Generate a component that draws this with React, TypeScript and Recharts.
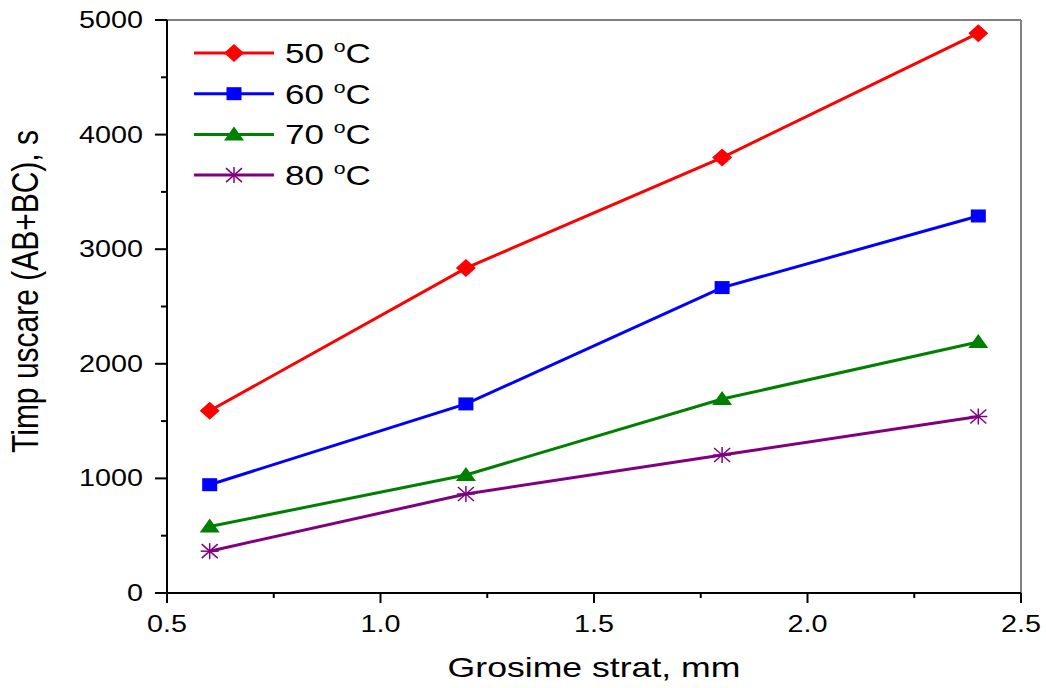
import React from "react"
import { LineChart, Line, XAxis, YAxis, ReferenceLine } from "recharts"

// thickness values
const THICKNESS = [0.6, 1.2, 1.8, 2.4]
const T50 = [1590, 2835, 3800, 4885]
const T60 = [945, 1650, 2665, 3290]
const T70 = [580, 1030, 1693, 2190]
const T80 = [365, 864, 1204, 1540]

const X_TICKS = [0.5, 0.75, 1.0, 1.25, 1.5, 1.75, 2.0, 2.25, 2.5]
const X_MAJOR = [0.5, 1.0, 1.5, 2.0, 2.5]
const Y_TICKS = [0, 500, 1000, 1500, 2000, 2500, 3000, 3500, 4000, 4500, 5000]
const Y_MAJOR = [0, 1000, 2000, 3000, 4000, 5000]

const SERIES = [
  { key: "t50", label: "50", color: "#ff0000", shape: "diamond", values: T50 },
  { key: "t60", label: "60", color: "#0000ff", shape: "square", values: T60 },
  { key: "t70", label: "70", color: "#008000", shape: "triangle", values: T70 },
  { key: "t80", label: "80", color: "#800080", shape: "star", values: T80 },
]

const data = THICKNESS.map((x, i) => {
  const row: Record<string, number> = { x }
  SERIES.forEach((s) => (row[s.key] = s.values[i]))
  return row
})

const FONT = "'Liberation Sans', Arial, sans-serif"
const SX = 1.25 // the original figure is stretched horizontally

function Marker({ cx, cy, shape, color }: { cx: number; cy: number; shape: string; color: string }) {
  if (shape === "diamond") {
    return <polygon points={`${cx},${cy - 9} ${cx + 10},${cy} ${cx},${cy + 9} ${cx - 10},${cy}`} fill={color} />
  }
  if (shape === "square") {
    return <rect x={cx - 7.5} y={cy - 6.5} width={15} height={13} fill={color} />
  }
  if (shape === "triangle") {
    return <polygon points={`${cx},${cy - 8} ${cx + 10},${cy + 6} ${cx - 10},${cy + 6}`} fill={color} />
  }
  return (
    <g stroke={color} strokeWidth={1.5}>
      <line x1={cx} y1={cy - 8} x2={cx} y2={cy + 8} />
      <line x1={cx - 9} y1={cy} x2={cx + 9} y2={cy} />
      <line x1={cx - 8} y1={cy - 7} x2={cx + 8} y2={cy + 7} />
      <line x1={cx - 8} y1={cy + 7} x2={cx + 8} y2={cy - 7} />
    </g>
  )
}

function XTick(props: any) {
  const { x, y, payload } = props
  const major = X_MAJOR.includes(payload.value)
  return (
    <g>
      <line x1={x} x2={x} y1={y} y2={y + (major ? 10 : 5)} stroke="#000" strokeWidth={2} />
      {major && (
        <text
          transform={`translate(${x},${y + 39}) scale(${SX},1)`}
          textAnchor="middle"
          fontSize={23}
          fontFamily={FONT}
          fill="#000"
        >
          {payload.value.toFixed(1)}
        </text>
      )}
    </g>
  )
}

function YTick(props: any) {
  const { x, y, payload } = props
  const major = Y_MAJOR.includes(payload.value)
  return (
    <g>
      <line x1={x} x2={x - (major ? 12 : 6)} y1={y} y2={y} stroke="#000" strokeWidth={2} />
      {major && (
        <text
          transform={`translate(${x - 24},${y + 8}) scale(${SX},1)`}
          textAnchor="end"
          fontSize={23}
          fontFamily={FONT}
          fill="#000"
        >
          {payload.value}
        </text>
      )}
    </g>
  )
}

function LegendBox() {
  return (
    <svg width={230} height={180} style={{ display: "block" }}>
      {SERIES.map((s, i) => {
        const cy = 18 + i * 40.7
        return (
          <g key={s.key}>
            <line x1={4} x2={84} y1={cy} y2={cy} stroke={s.color} strokeWidth={3} />
            <Marker cx={44} cy={cy} shape={s.shape} color={s.color} />
            <text transform={`translate(95,${cy + 10}) scale(${SX},1)`} fontSize={28} fontFamily={FONT} fill="#000">
              {s.label}{" "}
              <tspan fontSize={17} dy={-11}>o</tspan>
              <tspan dy={11}>C</tspan>
            </text>
          </g>
        )
      })}
    </svg>
  )
}

export default function App() {
  return (
    <div style={{ position: "absolute", left: 0, top: 0, width: 1046, height: 688, background: "#fff" }}>
      <LineChart width={1046} height={688} data={data} margin={{ top: 20, right: 25, left: 0, bottom: 0 }}>
        <XAxis
          dataKey="x"
          type="number"
          domain={[0.5, 2.5]}
          ticks={X_TICKS}
          interval={0}
          height={95}
          tickSize={0}
          tickMargin={0}
          tickLine={false}
          tick={<XTick />}
          axisLine={{ stroke: "#000", strokeWidth: 2 }}
          label={{
            content: (p: any) => {
              const vb = p.viewBox
              return (
                <text
                  transform={`translate(${vb.x + vb.width / 2},${vb.y + 84}) scale(${SX},1)`}
                  textAnchor="middle"
                  fontSize={28.5}
                  fontFamily={FONT}
                  fill="#000"
                >
                  Grosime strat, mm
                </text>
              )
            },
          }}
        />
        <YAxis
          type="number"
          domain={[0, 5000]}
          ticks={Y_TICKS}
          interval={0}
          width={167}
          tickSize={0}
          tickMargin={0}
          tickLine={false}
          tick={<YTick />}
          axisLine={{ stroke: "#000", strokeWidth: 2 }}
          label={{
            content: (p: any) => {
              const vb = p.viewBox
              return (
                <text
                  transform={`translate(${vb.x + 38},${vb.y + vb.height / 2 - 15}) scale(${SX},1) rotate(-90)`}
                  textAnchor="middle"
                  fontSize={30}
                  fontFamily={FONT}
                  fill="#000"
                >
                  Timp uscare (AB+BC), s
                </text>
              )
            },
          }}
        />
        <ReferenceLine y={5000} stroke="#808080" strokeWidth={2} />
        <ReferenceLine x={2.5} stroke="#808080" strokeWidth={2} />
        {SERIES.map((s) => (
          <Line
            key={s.key}
            dataKey={s.key}
            stroke={s.color}
            strokeWidth={3}
            isAnimationActive={false}
            dot={(p: any) => <Marker key={`${s.key}-${p.index}`} cx={p.cx} cy={p.cy} shape={s.shape} color={s.color} />}
            activeDot={false}
          />
        ))}
      </LineChart>
      <div style={{ position: "absolute", left: 190, top: 35 }}>
        <LegendBox />
      </div>
    </div>
  )
}
